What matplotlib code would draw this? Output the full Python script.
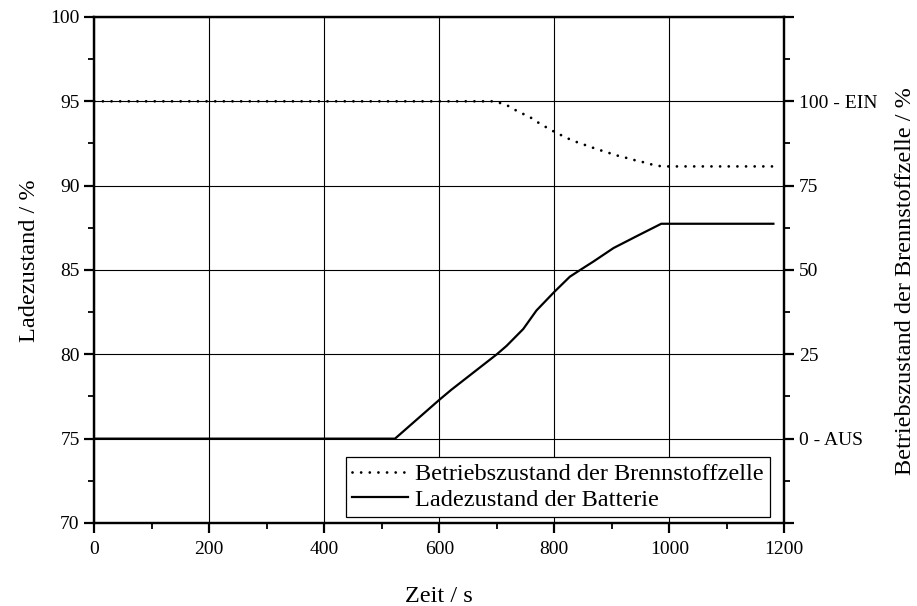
import matplotlib
matplotlib.use("Agg")
import matplotlib.pyplot as plt
from matplotlib.ticker import MultipleLocator, FixedLocator, FixedFormatter

plt.rcParams['font.family'] = ['Liberation Serif', 'DejaVu Serif']
plt.rcParams['mathtext.fontset'] = 'stix'

# Ladezustand der Batterie (linke Achse, %)
t_batt = [0, 523, 600, 621, 700, 717, 746, 769, 800, 827, 845, 868, 903, 943, 986, 1181]
soc_batt = [75.0, 75.0, 77.3, 77.9, 80.0, 80.5, 81.5, 82.6, 83.7, 84.6, 85.0, 85.5, 86.3, 87.0, 87.74, 87.74]

# Betriebszustand der Brennstoffzelle (rechte Achse, %)
t_fc = [0, 697, 711, 717, 730, 744, 757, 769, 782, 794, 808, 822, 836, 851, 866, 880,
        895, 910, 926, 941, 956, 971, 987, 1181]
state_fc = [100.0, 100.0, 99.2, 98.9, 97.6, 96.4, 95.4, 94.0, 92.7, 91.5, 90.3, 89.1, 88.1,
            87.2, 86.3, 85.5, 84.7, 83.9, 83.2, 82.5, 81.9, 81.2, 80.7, 80.7]

right_ticks = [-25, 0, 25, 50, 75, 100, 125]
right_labels = ['', '0 - AUS', '25', '50', '75', '100 - EIN', '']

fig = plt.figure(figsize=(9.17, 6.06), dpi=100)
ax = fig.add_axes([0.1028, 0.137, 0.7525, 0.835])
ax2 = ax.twinx()

ax.set_xlim(0, 1200)
ax.set_ylim(70, 100)
ax2.set_ylim(-25, 125)

ax.xaxis.set_major_locator(MultipleLocator(200))
ax.xaxis.set_minor_locator(MultipleLocator(100))
ax.yaxis.set_major_locator(MultipleLocator(5))
ax.yaxis.set_minor_locator(MultipleLocator(2.5))
ax2.yaxis.set_major_locator(FixedLocator(right_ticks))
ax2.yaxis.set_major_formatter(FixedFormatter(right_labels))
ax2.yaxis.set_minor_locator(MultipleLocator(12.5))

ax.grid(True, which='major', color='black', linewidth=0.8)
ax.set_axisbelow(True)

for a in (ax, ax2):
    for s in a.spines.values():
        s.set_linewidth(1.6)
    a.tick_params(which='major', direction='out', length=7, width=1.6, labelsize=14, colors='black')
    a.tick_params(which='minor', direction='out', length=4.5, width=1.3)
ax.tick_params(axis='x', pad=6)

l_batt, = ax.plot(t_batt, soc_batt, color='black', linewidth=1.6,
                  solid_joinstyle='round', label='Ladezustand der Batterie')
l_fc, = ax2.plot(t_fc, state_fc, color='black', linewidth=2.0, linestyle=(0, (0.01, 3.1)),
                 dash_capstyle='round', label='Betriebszustand der Brennstoffzelle')

ax.set_xlabel('Zeit / s', fontsize=17.5, labelpad=20)
ax.set_ylabel('Ladezustand / %', fontsize=17.5)
ax.yaxis.set_label_coords(-0.0787, 0.518)
ax2.set_ylabel('Betriebszustand der Brennstoffzelle / %', fontsize=17.5)
ax2.yaxis.set_label_coords(1.1604, 0.478)

leg = ax2.legend(handles=[l_fc, l_batt], loc='lower right', bbox_to_anchor=(0.979, 0.012),
                 fontsize=17.5, frameon=True, fancybox=False, framealpha=1, edgecolor='black',
                 borderaxespad=0, handlelength=2.3, handletextpad=0.3,
                 borderpad=0.25, labelspacing=0.15)
leg.get_frame().set_linewidth(0.9)

fig.savefig('out.png', dpi=100)
